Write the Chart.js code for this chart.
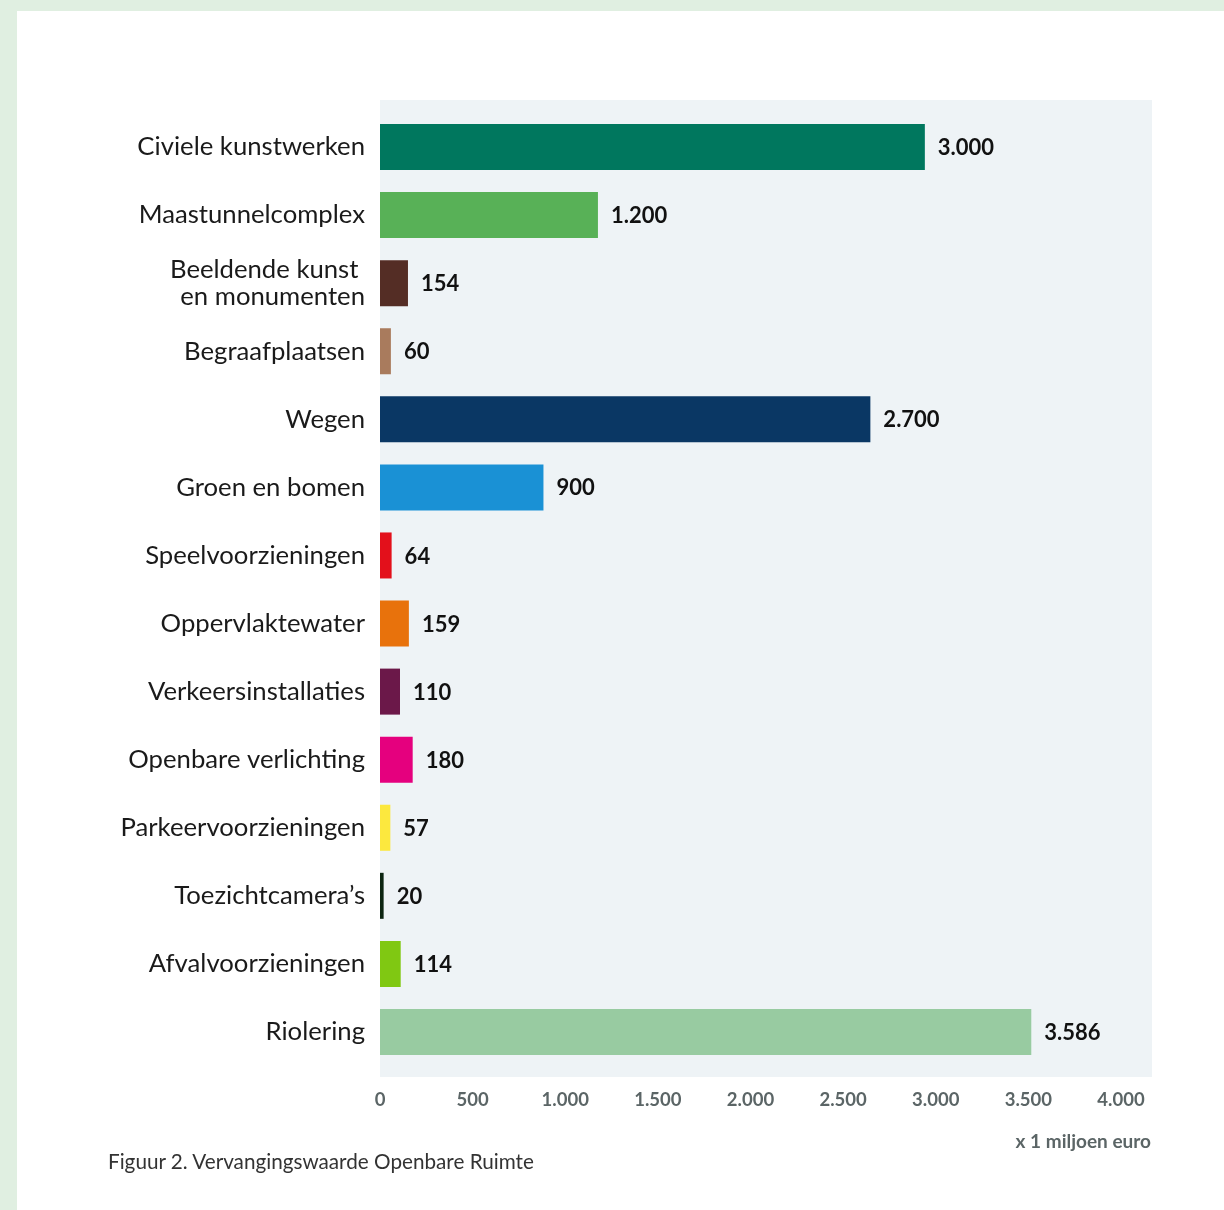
<!DOCTYPE html>
<html>
<head>
<meta charset="utf-8">
<script src="https://cdn.jsdelivr.net/npm/chart.js@4.4.1/dist/chart.umd.min.js"></script>
<style>
  html, body { margin: 0; padding: 0; }
  body { width: 1224px; height: 1210px; background: #e0efe1; position: relative; overflow: hidden; }
  #panel { position: absolute; left: 17px; top: 11px; width: 1207px; height: 1199px; background: #ffffff; }
  #c { position: absolute; left: 0; top: 0; }
  #unit { position: absolute; right: 73px; top: 1129px; font: 700 19px Lato, sans-serif; color: #5b6566; white-space: nowrap; }
  #caption { position: absolute; left: 108px; top: 1149px; font: 400 20.7px Lato, sans-serif; color: #333; white-space: nowrap; }
</style>
</head>
<body>
<div id="panel"></div>
<canvas id="c" width="1224" height="1210"></canvas>
<div id="unit">x 1 miljoen euro</div>
<div id="caption">Figuur 2. Vervangingswaarde Openbare Ruimte</div>
<script>
const categories = [
  "Civiele kunstwerken",
  "Maastunnelcomplex",
  ["Beeldende kunst ", "en monumenten"],
  "Begraafplaatsen",
  "Wegen",
  "Groen en bomen",
  "Speelvoorzieningen",
  "Oppervlaktewater",
  "Verkeersinstallaties",
  "Openbare verlichting",
  "Parkeervoorzieningen",
  "Toezichtcamera’s",
  "Afvalvoorzieningen",
  "Riolering"
];
const values = [3000, 1200, 154, 60, 2700, 900, 64, 159, 110, 180, 57, 20, 114, 3586];
const barColors = [
  "#00775e", "#58b157", "#542d25", "#a97b5d", "#0a3764", "#1a91d5", "#e3101b",
  "#e8720c", "#6b1849", "#e5007e", "#fce83e", "#0c2511", "#80c812", "#98cba1"
];
const tickValues = [0, 500, 1000, 1500, 2000, 2500, 3000, 3500, 4000];

function fmt(v) {
  return String(v).replace(/\B(?=(\d{3})+(?!\d))/g, ".");
}

const plotBg = {
  id: "plotBg",
  beforeDraw(chart) {
    const a = chart.chartArea, ctx = chart.ctx;
    ctx.save();
    ctx.fillStyle = "#eef3f6";
    ctx.fillRect(a.left, a.top - 13, a.right - a.left + 31, a.bottom - a.top + 24);
    ctx.restore();
  }
};

const valueLabels = {
  id: "valueLabels",
  afterDatasetsDraw(chart) {
    const ctx = chart.ctx;
    const meta = chart.getDatasetMeta(0);
    ctx.save();
    ctx.font = "700 22px Lato, sans-serif";
    ctx.fillStyle = "#111111";
    ctx.textAlign = "left";
    ctx.textBaseline = "middle";
    meta.data.forEach((el, i) => {
      ctx.fillText(fmt(values[i]), el.x + 13, el.y + 1);
    });
    ctx.restore();
  }
};

new Chart(document.getElementById("c"), {
  type: "bar",
  data: {
    labels: categories,
    datasets: [{
      data: values,
      backgroundColor: barColors,
      borderWidth: 0,
      barPercentage: 0.676,
      categoryPercentage: 1.0,
      xAxisID: "x",
      yAxisID: "y"
    }]
  },
  options: {
    indexAxis: "y",
    responsive: false,
    animation: false,
    devicePixelRatio: 1,
    layout: { padding: { left: 0, top: 113, right: 103, bottom: 0 } },
    plugins: { legend: { display: false }, tooltip: { enabled: false } },
    scales: {
      x: {
        type: "linear",
        min: 0,
        max: 4080,
        display: false
      },
      x2: {
        type: "linear",
        position: "bottom",
        min: 0,
        max: 4000,
        grid: { display: false, drawTicks: false },
        border: { display: false },
        afterBuildTicks(scale) { scale.ticks = tickValues.map(v => ({ value: v })); },
        afterFit(scale) { scale.height = 144; },
        ticks: {
          padding: 23,
          color: "#5b6566",
          font: { family: "Lato, sans-serif", size: 18.5, weight: "700" },
          maxRotation: 0,
          autoSkip: false,
          callback: v => fmt(v)
        }
      },
      y: {
        position: "left",
        grid: { display: false, drawTicks: false },
        border: { display: false },
        afterFit(scale) { scale.width = 380; },
        ticks: {
          padding: 15,
          color: "#1a1a1a",
          autoSkip: false,
          font: { family: "Lato, sans-serif", size: 25.7, weight: "400", lineHeight: 1.05 }
        }
      }
    }
  },
  plugins: [plotBg, valueLabels]
});
</script>
</body>
</html>
